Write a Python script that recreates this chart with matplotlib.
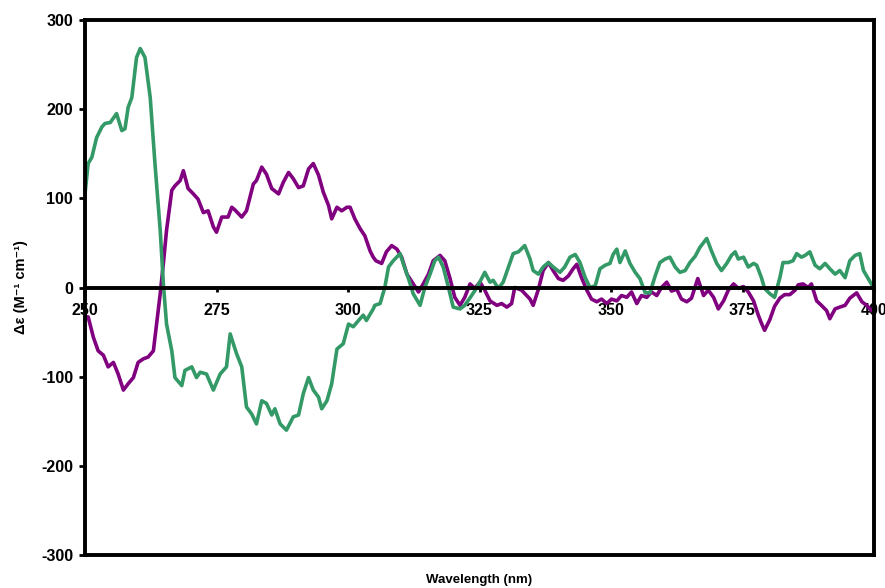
import numpy as np
import matplotlib
matplotlib.use("Agg")
import matplotlib.pyplot as plt

plt.rcParams['font.family'] = ['Liberation Sans', 'DejaVu Sans']
plt.rcParams['font.weight'] = 'bold'
plt.rcParams['axes.unicode_minus'] = False

# CD spectra, wavelength (nm) vs delta epsilon (M^-1 cm^-1)
green_nm = [250.0, 250.6, 251.3, 252.2, 253.2, 253.8, 254.8, 256.0, 257.0, 257.6,
            258.2, 258.9, 259.8, 260.5, 261.4, 262.4, 263.3, 264.3, 264.9, 265.5,
            266.5, 267.1, 268.4, 269.0, 270.3, 271.2, 271.9, 273.1, 274.4, 275.7,
            276.9, 277.6, 278.8, 279.8, 280.7, 281.7, 282.6, 283.6, 284.5, 285.5,
            286.1, 287.1, 288.3, 289.6, 290.6, 291.5, 292.5, 293.4, 294.4, 295.0,
            296.0, 296.9, 297.9, 299.1, 300.1, 301.0, 302.0, 302.9, 303.5, 304.8,
            305.1, 306.1, 307.0, 307.7, 308.6, 309.9, 310.5, 311.5, 312.4, 313.7,
            314.6, 315.6, 316.5, 317.2, 318.1, 319.1, 320.0, 321.3, 322.2, 323.5,
            324.5, 325.4, 326.0, 327.0, 327.6, 328.6, 329.5, 330.5, 331.4, 332.4,
            333.6, 334.6, 335.2, 336.2, 337.1, 338.1, 339.0, 340.3, 341.2, 342.2,
            343.2, 344.1, 345.1, 346.0, 347.0, 347.9, 348.9, 349.8, 350.4, 351.1,
            351.7, 352.7, 353.6, 354.6, 355.5, 356.5, 357.4, 358.4, 359.3, 360.3,
            361.2, 362.2, 363.1, 364.1, 365.0, 366.0, 366.9, 368.2, 369.1, 370.1,
            371.0, 372.0, 372.9, 373.6, 374.2, 375.2, 376.1, 377.1, 377.7, 378.6,
            379.2, 380.2, 381.1, 382.1, 382.7, 383.7, 384.6, 385.3, 386.2, 386.9,
            387.8, 388.8, 389.7, 390.7, 391.6, 392.6, 393.5, 394.5, 395.4, 396.4,
            397.3, 398.0, 398.9, 400.0]
green_de = [105, 139, 146, 168, 180, 184, 185, 195, 176, 178,
            202, 213, 258, 268, 258, 213, 139, 64, 4, -41,
            -71, -101, -110, -93, -89, -101, -95, -97, -115, -97,
            -89, -52, -74, -89, -134, -142, -153, -127, -130, -143,
            -136, -153, -160, -145, -143, -119, -101, -115, -123, -136,
            -127, -108, -69, -63, -41, -44, -37, -31, -37, -24,
            -20, -18, 0, 23, 30, 38, 27, 10, -7, -20,
            0, 15, 30, 34, 23, 0, -22, -24, -20, -9,
            0, 10, 17, 6, 8, -1, 6, 23, 38, 40,
            47, 32, 19, 15, 23, 28, 23, 17, 23, 34,
            37, 28, 11, 0, 2, 21, 25, 27, 37, 43,
            28, 41, 27, 17, 10, -6, -6, 13, 28, 32,
            34, 23, 17, 19, 28, 35, 45, 55, 41, 27,
            19, 27, 36, 40, 32, 34, 23, 27, 25, 11,
            -1, -7, -11, 11, 28, 28, 30, 38, 34, 36,
            40, 25, 21, 27, 21, 15, 19, 11, 30, 36,
            38, 19, 10, -1]

purple_nm = [250.0, 250.6, 251.6, 252.5, 253.5, 254.4, 255.4, 256.3, 257.3, 258.2,
             259.2, 260.1, 261.1, 262.0, 263.0, 263.6, 264.3, 264.9, 265.5, 266.5,
             267.1, 268.1, 268.7, 269.6, 270.6, 271.5, 272.5, 273.4, 274.4, 275.0,
             276.0, 277.2, 277.9, 278.5, 279.8, 280.7, 282.0, 282.6, 283.6, 284.5,
             285.5, 286.8, 287.7, 288.7, 289.6, 290.6, 291.5, 292.5, 293.4, 294.4,
             295.3, 296.3, 296.9, 297.9, 298.8, 299.8, 300.4, 301.3, 302.3, 303.2,
             304.2, 304.8, 305.3, 306.4, 307.3, 308.3, 309.3, 310.2, 311.2, 312.4,
             313.4, 314.3, 315.3, 316.2, 317.5, 318.4, 319.4, 320.3, 321.3, 322.2,
             323.2, 324.1, 325.1, 326.0, 327.0, 328.3, 329.2, 330.2, 331.1, 331.7,
             333.0, 334.6, 335.2, 336.2, 337.1, 338.1, 339.0, 340.0, 340.9, 341.9,
             342.8, 343.5, 344.4, 345.4, 346.3, 347.3, 348.2, 349.2, 350.1, 351.1,
             352.0, 353.0, 353.9, 354.9, 355.8, 356.8, 357.7, 358.7, 359.6, 360.6,
             361.5, 362.5, 363.4, 364.4, 365.3, 366.5, 367.6, 368.5, 369.5, 370.4,
             371.4, 372.3, 373.3, 374.2, 375.2, 376.1, 377.1, 378.0, 378.6, 379.2,
             380.2, 381.1, 382.1, 383.0, 384.0, 385.0, 385.6, 386.5, 387.5, 388.1,
             389.1, 390.0, 391.0, 391.6, 392.6, 393.5, 394.5, 395.4, 396.7, 397.7,
             398.6, 399.6, 400.0]
purple_de = [-33, -33, -56, -71, -76, -89, -84, -97, -115, -108,
             -101, -84, -80, -78, -71, -41, -7, 27, 64, 109,
             114, 120, 131, 111, 105, 99, 84, 86, 68, 62,
             79, 79, 90, 87, 79, 86, 116, 120, 135, 127,
             111, 105, 118, 129, 122, 112, 114, 133, 139, 126,
             107, 92, 77, 90, 86, 90, 90, 77, 66, 58,
             41, 34, 30, 27, 40, 47, 43, 34, 15, 4,
             -5, 4, 15, 30, 36, 30, 10, -11, -20, -11,
             4, -1, 6, -3, -15, -20, -18, -22, -18, 0,
             -3, -13, -20, -2, 19, 28, 19, 10, 8, 13,
             21, 26, 11, -3, -13, -16, -13, -18, -13, -15,
             -9, -11, -5, -18, -9, -11, -5, -9, 0, 6,
             -4, -2, -13, -16, -12, 10, -9, -3, -11, -24,
             -15, -3, 4, -1, 1, -5, -15, -31, -40, -48,
             -36, -21, -12, -8, -8, -3, 3, 4, 0, 4,
             -15, -20, -26, -35, -24, -22, -20, -12, -6, -16,
             -20, -26, -24]

xticks = [250, 275, 300, 325, 350, 375, 400]
yticks = [-300, -200, -100, 0, 100, 200, 300]

fig = plt.figure(figsize=(8.85, 5.88), dpi=100)
ax = fig.add_axes([85 / 885, 1 - 555 / 588, 789 / 885, 535 / 588])

ax.plot(purple_nm, purple_de, color='#800080', lw=2.6, solid_joinstyle='round')
ax.plot(green_nm, green_de, color='#339966', lw=2.6, solid_joinstyle='round')

ax.set_xlim(250, 400)
ax.set_ylim(-300, 300)

# x axis sits on the zero line, the frame closes around the plot
ax.spines['bottom'].set_position(('data', 0))
for s in ax.spines.values():
    s.set_linewidth(2.8)
    s.set_color('black')
ax.plot([250, 400], [-300, -300], color='black', lw=2.8, clip_on=False,
        solid_capstyle='projecting')

ax.set_xticks(xticks)
ax.set_yticks(yticks)
ax.tick_params(axis='x', direction='out', length=3, width=2, pad=8, labelsize=11.5)
ax.tick_params(axis='y', direction='out', length=4.5, width=2, pad=4, labelsize=11.5)
ax.tick_params(top=False, right=False)
for lab in ax.get_xticklabels() + ax.get_yticklabels():
    lab.set_fontweight('bold')

ax.set_ylabel('Δε (M⁻¹ cm⁻¹)', fontsize=10.5, fontweight='bold')
ax.yaxis.set_label_coords(-0.072, 0.5)
fig.text(479.5 / 885, 1 - 580 / 588, 'Wavelength (nm)', ha='center', va='center',
         fontsize=9.5, fontweight='bold')

fig.savefig('out.png', dpi=100)
